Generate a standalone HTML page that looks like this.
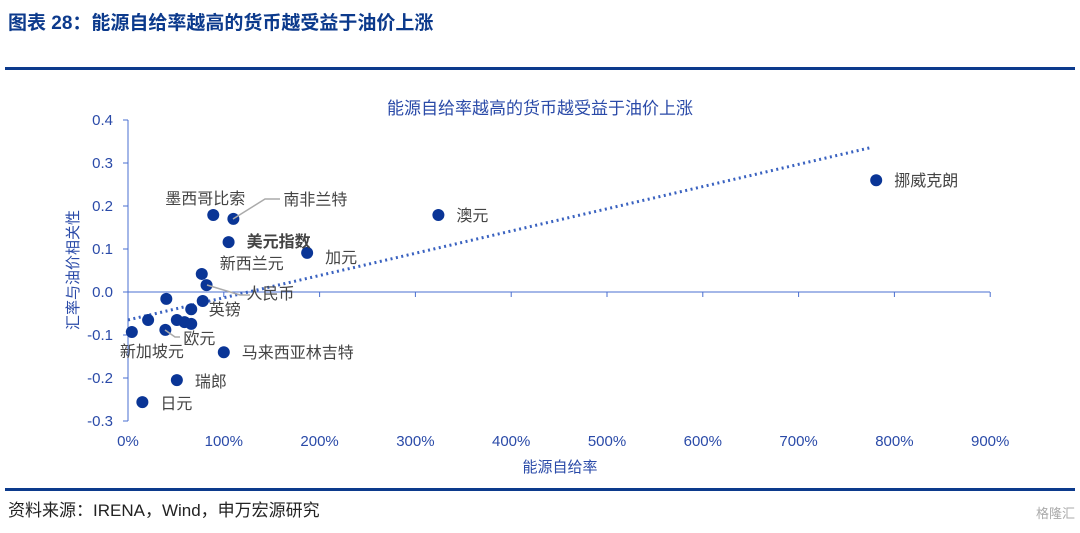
<!DOCTYPE html>
<html><head><meta charset="utf-8"><style>
body{margin:0;background:#fff;width:1080px;height:528px;overflow:hidden;font-family:"Liberation Sans","Noto Sans CJK SC",sans-serif}
</style></head><body>
<svg width="1080" height="528" xmlns="http://www.w3.org/2000/svg" font-family="Liberation Sans, Noto Sans CJK SC, sans-serif">
<text x="8" y="29" font-size="19" font-weight="bold" fill="#0c3a8c">图表 28：能源自给率越高的货币越受益于油价上涨</text>
<rect x="5" y="67" width="1070" height="3" fill="#0c3a8c"/>
<text x="540" y="114" font-size="17" fill="#2a4aa8" text-anchor="middle">能源自给率越高的货币越受益于油价上涨</text>
<g id="plot"></g>
<text x="560" y="472" font-size="15" fill="#2a4aa8" text-anchor="middle">能源自给率</text>
<text transform="translate(78,270) rotate(-90)" font-size="15" fill="#2a4aa8" text-anchor="middle">汇率与油价相关性</text>
<rect x="5" y="488" width="1070" height="3" fill="#0c3a8c"/>
<text x="8" y="516" font-size="17" fill="#222">资料来源：IRENA，Wind，申万宏源研究</text>
<text x="1075" y="518" font-size="13" fill="#aaa" text-anchor="end">格隆汇</text>
</svg>
<script>
const xTicks=[0,100,200,300,400,500,600,700,800,900];
const yTicks=[0.4,0.3,0.2,0.1,0.0,-0.1,-0.2,-0.3];
const xs=[781,324,187,105,89,110,77,82,78,40,66,51,59,66,21,39,4,100,51,15];
const ys=[0.26,0.179,0.091,0.116,0.179,0.17,0.042,0.016,-0.021,-0.016,-0.04,-0.065,-0.07,-0.074,-0.065,-0.088,-0.093,-0.14,-0.205,-0.256];
const ptNames=["挪威克朗","澳元","加元","美元指数","墨西哥比索","南非兰特","新西兰元","人民币","英镑","","","","","","","欧元","新加坡元","马来西亚林吉特","瑞郎","日元"];
const trend=[-0.065,0.0517];
const X=v=>128+v*0.958, Y=v=>292-v*430;
const NS="http://www.w3.org/2000/svg";
const g=document.getElementById('plot');
function mk(t,a){const e=document.createElementNS(NS,t);for(const k in a)e.setAttribute(k,a[k]);g.appendChild(e);return e;}
let ax=mk('line',{x1:128,y1:120,x2:128,y2:421,stroke:'#4a6fd0','stroke-width':1});


let ax2=mk('line',{x1:128,y1:Y(0),x2:990,y2:Y(0),stroke:'#4a6fd0','stroke-width':1});


xTicks.forEach(t=>{const tk=mk('line',{x1:X(t),y1:Y(0),x2:X(t),y2:Y(0)+5,stroke:'#4a6fd0'});


const l=mk('text',{x:X(t),y:446,'font-size':15,fill:'#2a4aa8','text-anchor':'middle'});l.textContent=t+'%';

});
yTicks.forEach(t=>{const tk=mk('line',{x1:123,y1:Y(t),x2:128,y2:Y(t),stroke:'#4a6fd0'});


const l=mk('text',{x:113,y:Y(t)+5,'font-size':15,fill:'#2a4aa8','text-anchor':'end'});l.textContent=t.toFixed(1);

});
const tl=mk('line',{x1:X(0),y1:Y(trend[0]),x2:X(777),y2:Y(trend[0]+trend[1]*7.77),stroke:'#3a62c0','stroke-width':3,'stroke-dasharray':'2 3.5'});


const lab={"挪威克朗":[18,6,'start'],"澳元":[18,6,'start'],"加元":[18,10,'start'],"美元指数":[18,5,'start'],"墨西哥比索":[-8,-11,'middle'],"南非兰特":[50,-14,'start'],"新西兰元":[18,-5,'start'],"人民币":[40,14,'start'],"英镑":[6,14,'start'],"欧元":[18,14,'start'],"新加坡元":[-12,25,'start'],"马来西亚林吉特":[18,6,'start'],"瑞郎":[18,7,'start'],"日元":[18,7,'start']};
xs.forEach((v,i)=>{const c=mk('circle',{cx:X(v),cy:Y(ys[i]),r:6,fill:'#0a3596'});


const n=ptNames[i];if(n&&lab[n]){const o=lab[n];const t=mk('text',{x:X(v)+o[0],y:Y(ys[i])+o[1],'font-size':16,fill:'#444','text-anchor':o[2],'font-weight':n==='美元指数'?'bold':'normal'});t.textContent=n;

}});
[[233,219,265,199,280,199],[207,285,240,295,250,295],[165,330,175,337,180,337]].forEach(p=>{const l=mk('polyline',{points:p.join(' '),fill:'none',stroke:'#aaa','stroke-width':1.5});

});
</script>
</body></html>
